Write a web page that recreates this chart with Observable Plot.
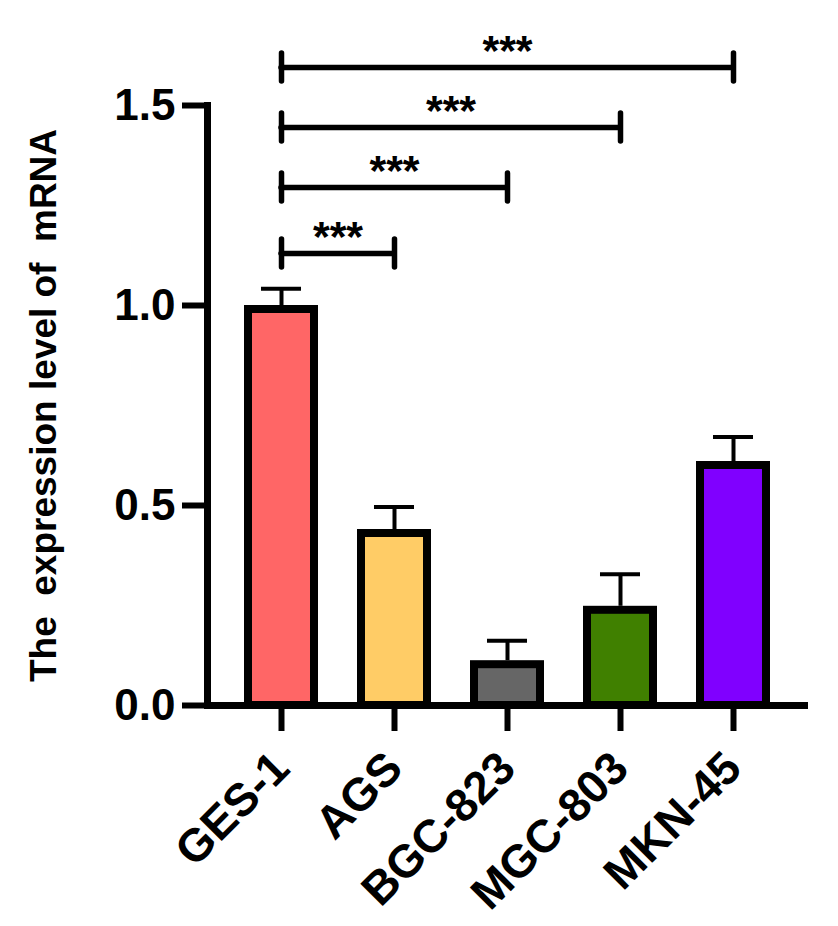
<!DOCTYPE html>
<html>
<head>
<meta charset="utf-8">
<script src="https://cdn.jsdelivr.net/npm/d3@7"></script>
<script src="https://cdn.jsdelivr.net/npm/@observablehq/plot@0.6"></script>
<style>
  html, body { margin: 0; padding: 0; background: #fff; }
  svg text { white-space: pre; }
</style>
</head>
<body>
<div id="chart"></div>
<script>
// ---- data ----
const cats = ["GES-1", "AGS", "BGC-823", "MGC-803", "MKN-45"];
const means = [1.00, 0.44, 0.112, 0.248, 0.61];
const sds = [0.042, 0.056, 0.05, 0.08, 0.061];
const colors = ["#FF6666", "#FFCC66", "#666666", "#408000", "#8000FF"];
const yTicks = [0, 0.5, 1.0, 1.5];
const compFrom = ["GES-1", "GES-1", "GES-1", "GES-1"];
const compTo = ["AGS", "BGC-823", "MGC-803", "MKN-45"];
const compY = [1.13, 1.295, 1.445, 1.595];
const compLabel = ["***", "***", "***", "***"];
const yLabel = "The  expression level of  mRNA";

const bars = cats.map((c, i) => ({name: c, mean: means[i], sd: sds[i]}));
const comps = compFrom.map((f, i) => ({from: f, to: compTo[i], y: compY[i], label: compLabel[i]}));
const ends = comps.flatMap(d => [{x: d.from, y: d.y}, {x: d.to, y: d.y}]);

const W = 838, H = 926;
const xRange = [224.5, 789.5];
const step = (xRange[1] - xRange[0]) / cats.length;
const pad = 0.416;
const bw = step * (1 - pad);
const font = "'Liberation Sans', Arial, Helvetica, sans-serif";

const starMarks = comps.map(d => Plot.text([d], {
  x: "from", y: "y", text: "label",
  dx: (cats.indexOf(d.to) - cats.indexOf(d.from)) * step / 2,
  dy: -3,
  textAnchor: "middle", lineAnchor: "bottom",
  fontSize: 43, fontWeight: "bold", fill: "black"
}));

const chart = Plot.plot({
  width: W, height: H,
  marginLeft: 207, marginRight: 30, marginTop: 105, marginBottom: 221,
  style: {fontFamily: font, background: "white", overflow: "visible", color: "black"},
  x: {domain: cats, range: xRange, paddingInner: pad, paddingOuter: pad / 2},
  y: {domain: [0, 1.5], range: [705, 105]},
  color: {domain: cats, range: colors},
  marks: [
    // error bars (drawn first so bars cover the lower part)
    Plot.ruleX(bars, {x: "name", y1: "mean", y2: d => d.mean + d.sd, stroke: "black", strokeWidth: 4}),
    Plot.tickY(bars, {x: "name", y: d => d.mean + d.sd, stroke: "black", strokeWidth: 4, insetLeft: (bw - 40) / 2, insetRight: (bw - 40) / 2}),
    Plot.barY(bars, {x: "name", y: "mean", fill: "name", stroke: "black", strokeWidth: 8, insetTop: 4}),
    // axes
    Plot.axisY({ticks: yTicks, tickFormat: d3.format(".1f"), tickSize: 25, tickPadding: 7, strokeWidth: 6,
      fontSize: 44, fontWeight: "bold", label: null, fill: "black"}),
    Plot.axisX({tickSize: 26, strokeWidth: 6, tickFormat: () => "", label: null}),
    Plot.frame({anchor: "left", strokeWidth: 7, stroke: "black"}),
    Plot.ruleY([0], {strokeWidth: 7, stroke: "black"}),
    // rotated category labels
    Plot.text(cats, {x: d => d, frameAnchor: "bottom", dy: 55, rotate: -45, textAnchor: "end", lineAnchor: "middle",
      fontSize: 46, fontWeight: "bold", fill: "black"}),
    // y-axis title
    Plot.text([yLabel], {frameAnchor: "left", rotate: -90, dx: -152, textAnchor: "middle", lineAnchor: "bottom",
      fontSize: 37, fontWeight: "bold", fill: "black"}),
    // significance brackets
    Plot.ruleY(comps, {y: "y", x1: "from", x2: "to", insetLeft: bw / 2, insetRight: bw / 2,
      stroke: "black", strokeWidth: 5.5, strokeLinecap: "round"}),
    Plot.ruleX(ends, {x: "x", y1: "y", y2: "y", insetTop: -14, insetBottom: -14,
      stroke: "black", strokeWidth: 5.5, strokeLinecap: "round"}),
    ...starMarks
  ]
});
document.getElementById("chart").appendChild(chart);
</script>
</body>
</html>
